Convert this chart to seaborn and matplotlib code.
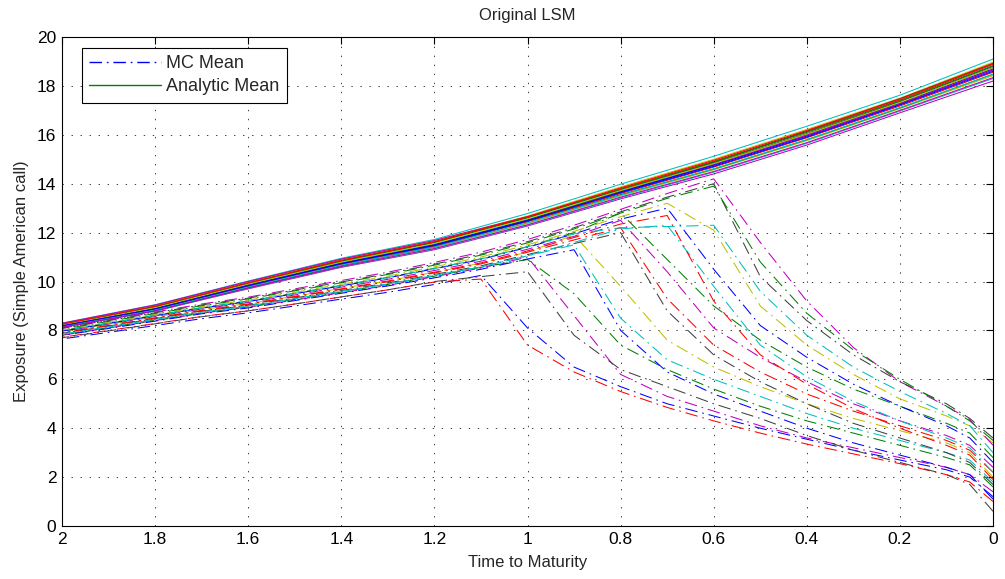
import numpy as np
import pandas as pd
import matplotlib as mpl
mpl.use("Agg")
import matplotlib.pyplot as plt
import seaborn as sns

# =============================================
# 1. Data
# =============================================
t_mc = [2.0, 1.9, 1.8, 1.7, 1.6, 1.5, 1.4, 1.3, 1.2, 1.1, 1.0,
        0.9, 0.8, 0.7, 0.6, 0.5, 0.4, 0.3, 0.2, 0.1, 0.05, 0.0]
t_an = [2.0, 1.8, 1.6, 1.4, 1.2, 1.0, 0.8, 0.6, 0.4, 0.2, 0.0]

mc_mean = [
    [7.65, 7.92, 8.2, 8.48, 8.72, 9.0, 9.28, 9.56, 9.88, 10.25, 8.1, 6.5, 5.7, 5.0, 4.5, 4.0, 3.55, 3.1, 2.7, 2.3, 2.0, 1.2],
    [7.72, 8.0, 8.28, 8.57, 8.8, 9.08, 9.37, 9.66, 9.98, 10.1, 7.4, 6.3, 5.5, 4.85, 4.3, 3.8, 3.35, 2.95, 2.55, 2.1, 1.8, 1.0],
    [7.8, 8.1, 8.4, 8.7, 8.95, 9.24, 9.54, 9.84, 10.2, 10.55, 11.0, 8.6, 6.2, 5.3, 4.7, 4.1, 3.6, 3.2, 2.8, 2.4, 2.1, 1.4],
    [7.7, 7.98, 8.27, 8.56, 8.8, 9.08, 9.37, 9.66, 10.0, 10.2, 10.4, 7.8, 6.4, 5.7, 5.0, 4.4, 3.7, 3.1, 2.6, 2.1, 1.7, 0.6],
    [7.82, 8.12, 8.42, 8.72, 8.97, 9.27, 9.57, 9.88, 10.22, 10.58, 10.9, 9.5, 7.4, 6.4, 5.6, 4.9, 4.3, 3.8, 3.3, 2.8, 2.5, 1.6],
    [7.85, 8.15, 8.45, 8.75, 9.0, 9.3, 9.6, 9.9, 10.25, 10.6, 11.05, 11.5, 8.5, 6.8, 6.0, 5.3, 4.6, 4.0, 3.5, 3.0, 2.7, 1.8],
    [7.95, 8.25, 8.55, 8.85, 9.1, 9.4, 9.72, 10.03, 10.38, 10.75, 11.2, 11.9, 9.8, 7.6, 6.5, 5.7, 5.0, 4.4, 3.9, 3.4, 3.0, 2.0],
    [7.8, 8.08, 8.38, 8.68, 8.92, 9.22, 9.52, 9.82, 10.15, 10.5, 10.92, 11.3, 8.0, 6.3, 5.4, 4.7, 4.0, 3.4, 2.9, 2.4, 2.1, 1.1],
    [7.9, 8.2, 8.5, 8.8, 9.06, 9.37, 9.68, 9.99, 10.35, 10.72, 11.2, 11.7, 12.2, 9.3, 7.4, 6.3, 5.4, 4.7, 4.1, 3.5, 3.1, 2.2],
    [7.95, 8.26, 8.57, 8.88, 9.14, 9.45, 9.77, 10.09, 10.45, 10.83, 11.32, 11.85, 12.5, 10.4, 8.1, 6.9, 5.9, 5.0, 4.3, 3.7, 3.3, 2.4],
    [7.88, 8.18, 8.48, 8.78, 9.03, 9.33, 9.63, 9.94, 10.29, 10.64, 11.1, 11.55, 12.0, 8.8, 7.0, 5.9, 5.0, 4.2, 3.6, 3.0, 2.6, 1.7],
    [8.0, 8.3, 8.62, 8.93, 9.2, 9.52, 9.84, 10.17, 10.54, 10.93, 11.43, 12.0, 12.8, 10.9, 9.0, 7.6, 6.5, 5.6, 4.9, 4.2, 3.8, 2.8],
    [7.85, 8.15, 8.45, 8.75, 9.0, 9.3, 9.6, 9.9, 10.25, 10.6, 11.05, 11.6, 12.15, 12.3, 9.8, 7.4, 6.1, 5.1, 4.3, 3.6, 3.2, 2.2],
    [8.02, 8.33, 8.65, 8.97, 9.24, 9.56, 9.89, 10.22, 10.6, 11.0, 11.5, 12.05, 12.65, 13.2, 12.1, 9.0, 7.4, 6.2, 5.2, 4.5, 4.1, 3.4],
    [7.97, 8.28, 8.6, 8.91, 9.18, 9.5, 9.82, 10.15, 10.52, 10.9, 11.4, 11.95, 12.55, 13.0, 10.5, 8.2, 6.9, 5.8, 4.9, 4.1, 3.6, 2.6],
    [7.9, 8.2, 8.51, 8.82, 9.08, 9.39, 9.7, 10.02, 10.38, 10.76, 11.25, 11.8, 12.35, 12.7, 9.2, 7.0, 5.8, 4.8, 4.0, 3.3, 2.9, 1.9],
    [8.1, 8.42, 8.75, 9.08, 9.36, 9.7, 10.04, 10.38, 10.78, 11.2, 11.72, 12.3, 12.95, 13.6, 14.2, 11.6, 9.2, 7.3, 5.9, 4.9, 4.35, 3.3],
    [8.08, 8.4, 8.72, 9.04, 9.32, 9.65, 9.98, 10.32, 10.71, 11.12, 11.63, 12.2, 12.85, 13.45, 14.0, 10.2, 8.4, 7.0, 5.9, 5.0, 4.4, 3.6],
    [8.05, 8.37, 8.69, 9.01, 9.29, 9.62, 9.95, 10.29, 10.67, 11.08, 11.58, 12.15, 12.8, 13.4, 13.9, 10.8, 8.7, 7.2, 6.0, 4.9, 4.3, 3.5],
    [7.98, 8.29, 8.61, 8.92, 9.19, 9.51, 9.83, 10.16, 10.53, 10.92, 11.42, 11.95, 12.2, 12.25, 12.3, 9.6, 7.8, 6.5, 5.5, 4.6, 4.1, 3.0],
]

analytic_mean = [
    [8.28, 9.02, 10.0, 10.9, 11.65, 12.62, 13.75, 14.85, 16.03, 17.3, 18.75],
    [8.3, 9.05, 10.02, 10.95, 11.72, 12.78, 13.98, 15.12, 16.35, 17.62, 19.1],
    [8.15, 8.82, 9.77, 10.65, 11.39, 12.37, 13.5, 14.57, 15.76, 17.07, 18.42],
    [8.2, 8.9, 9.86, 10.74, 11.5, 12.5, 13.66, 14.75, 15.95, 17.25, 18.65],
    [8.25, 8.97, 9.93, 10.85, 11.61, 12.63, 13.8, 14.92, 16.13, 17.42, 18.88],
    [8.12, 8.8, 9.7, 10.58, 11.3, 12.27, 13.38, 14.4, 15.58, 16.9, 18.2],
    [8.18, 8.86, 9.8, 10.7, 11.46, 12.5, 13.7, 14.82, 16.05, 17.36, 18.8],
    [8.23, 8.95, 9.9, 10.8, 11.52, 12.45, 13.55, 14.6, 15.8, 17.1, 18.48],
    [8.13, 8.78, 9.72, 10.6, 11.33, 12.3, 13.42, 14.47, 15.65, 16.97, 18.3],
    [8.27, 9.0, 9.97, 10.9, 11.66, 12.68, 13.87, 15.0, 16.22, 17.5, 18.97],
    [8.21, 8.91, 9.87, 10.77, 11.52, 12.53, 13.68, 14.78, 15.99, 17.29, 18.7],
    [8.18, 8.87, 9.82, 10.71, 11.45, 12.45, 13.6, 14.68, 15.88, 17.18, 18.56],
    [8.29, 9.04, 10.0, 10.92, 11.68, 12.65, 13.75, 14.8, 15.98, 17.26, 18.66],
    [8.14, 8.81, 9.75, 10.65, 11.42, 12.48, 13.7, 14.88, 16.15, 17.48, 18.92],
    [8.24, 8.96, 9.92, 10.83, 11.59, 12.6, 13.77, 14.89, 16.1, 17.39, 18.83],
    [8.16, 8.84, 9.78, 10.67, 11.41, 12.4, 13.53, 14.61, 15.8, 17.11, 18.47],
    [8.22, 8.93, 9.89, 10.79, 11.55, 12.56, 13.72, 14.82, 16.03, 17.32, 18.74],
    [8.19, 8.88, 9.83, 10.73, 11.48, 12.48, 13.63, 14.71, 15.91, 17.22, 18.6],
    [8.26, 8.99, 9.95, 10.87, 11.63, 12.65, 13.83, 14.96, 16.18, 17.46, 18.92],
    [8.13, 8.8, 9.73, 10.61, 11.35, 12.32, 13.45, 14.5, 15.68, 17.0, 18.34],
]

x_ticks = [2, 1.8, 1.6, 1.4, 1.2, 1, 0.8, 0.6, 0.4, 0.2, 0]
x_labels = ["2", "1.8", "1.6", "1.4", "1.2", "1", "0.8", "0.6", "0.4", "0.2", "0"]
y_ticks = [0, 2, 4, 6, 8, 10, 12, 14, 16, 18, 20]

# old matlab colour order
matlab_colors = [(0, 0, 1), (0, 0.5, 0), (1, 0, 0), (0, 0.75, 0.75),
                 (0.75, 0, 0.75), (0.75, 0.75, 0), (0.25, 0.25, 0.25)]

# =============================================
# 2. Plotting
# =============================================
sns.set_style("white")
plt.rcParams['font.family'] = ['Liberation Sans', 'DejaVu Sans']
plt.rcParams['lines.scale_dashes'] = False

fig = plt.figure(figsize=(10.05, 5.79), dpi=100)
ax = fig.add_axes([0.0617, 0.0915, 0.9264, 0.8446])

k = 0
for i in range(len(mc_mean)):
    sns.lineplot(x=t_mc, y=mc_mean[i], ax=ax, color=matlab_colors[k % 7],
                 linewidth=0.75, linestyle=(0, (9, 3.5, 1.2, 3.5)),
                 label='MC Mean' if i == 0 else None, legend=False)
    k += 1
    sns.lineplot(x=t_an, y=analytic_mean[i], ax=ax, color=matlab_colors[k % 7],
                 linewidth=0.75, linestyle='-',
                 label='Analytic Mean' if i == 0 else None, legend=False)
    k += 1

ax.set_xlim(2, 0)
ax.set_ylim(0, 20)
ax.set_xticks(x_ticks)
ax.set_xticklabels(x_labels)
ax.set_yticks(y_ticks)
ax.grid(True, color='0.25', linestyle=(0, (1, 5.5)), linewidth=0.7)
ax.tick_params(direction='in', length=5, width=0.8, top=True, right=True,
               labelsize=12.5, colors='black', pad=4)
for s in ax.spines.values():
    s.set_color('black')
    s.set_linewidth(0.8)

ax.set_xlabel('Time to Maturity', fontsize=12, labelpad=6)
ax.set_ylabel('Exposure (Simple American call)', fontsize=12, labelpad=6)
ax.set_title('Original LSM', fontsize=12, pad=12)

leg = ax.legend(loc='upper left', bbox_to_anchor=(0.021, 0.978), borderaxespad=0,
                fontsize=13, handlelength=4.0, frameon=True, fancybox=False,
                edgecolor='black', framealpha=1, borderpad=0.4,
                labelspacing=0.35, handletextpad=0.3)
leg.get_frame().set_linewidth(0.8)
for h in leg.get_lines():
    h.set_linewidth(1.0)

fig.savefig('out.png', dpi=100)
